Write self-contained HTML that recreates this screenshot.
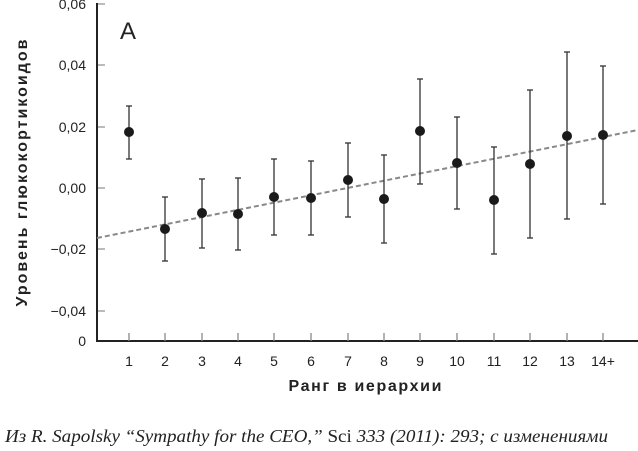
<!DOCTYPE html>
<html><head><meta charset="utf-8"><style>
body{margin:0;background:#fff;width:638px;height:451px;overflow:hidden}
svg{display:block}
text{font-family:"Liberation Sans","DejaVu Sans",sans-serif;fill:#222}
</style></head><body>
<svg width="638" height="451" viewBox="0 0 638 451">
<g font-size="14" text-anchor="end">
<text x="86" y="9">0,06</text>
<text x="86" y="70">0,04</text>
<text x="86" y="132">0,02</text>
<text x="86" y="193">0,00</text>
<text x="86" y="254">−0,02</text>
<text x="86" y="316">−0,04</text>
<text x="86" y="346">0</text>
</g>
<g stroke="#777" stroke-width="1">
<line x1="97" y1="4" x2="105" y2="4"/><line x1="97" y1="65" x2="105" y2="65"/>
<line x1="97" y1="127" x2="105" y2="127"/><line x1="97" y1="188" x2="105" y2="188"/>
<line x1="97" y1="249" x2="105" y2="249"/><line x1="97" y1="311" x2="105" y2="311"/>
</g>
<line x1="97" y1="3" x2="97" y2="342" stroke="#222" stroke-width="2"/>
<line x1="96" y1="341" x2="638" y2="341" stroke="#222" stroke-width="2"/>
<text x="120" y="39" font-size="24" style="fill:#222">A</text>
<line x1="97" y1="238" x2="638" y2="130" stroke="#888" stroke-width="2" stroke-dasharray="5,3"/>
<g id="pts" stroke="#333" stroke-width="1.3" fill="#1a1a1a"></g>
<g font-size="14" text-anchor="middle" id="xl"></g>
<text x="365" y="391" font-size="16" font-weight="bold" text-anchor="middle" textLength="153" lengthAdjust="spacing">Ранг в иерархии</text>
<text transform="translate(27,173) rotate(-90)" font-size="16" font-weight="bold" text-anchor="middle" textLength="267" lengthAdjust="spacing">Уровень глюкокортикоидов</text>
<text x="5" y="442" font-size="18" font-style="italic" textLength="603" lengthAdjust="spacingAndGlyphs" style="font-family:'Liberation Serif',serif">Из R. Sapolsky “Sympathy for the CEO,” <tspan font-style="normal">Sci</tspan> 333 (2011): 293; с изменениями</text>
</svg>
<script>
var d=[[129,132,106,159,"1"],[165,229,197,261,"2"],[202,213,179,248,"3"],[238,214,178,250,"4"],[274,197,159,235,"5"],[311,198,161,235,"6"],[348,180,143,217,"7"],[384,199,155,243,"8"],[420,131,79,184,"9"],[457,163,117,209,"10"],[494,200,147,254,"11"],[530,164,90,238,"12"],[567,136,52,219,"13"],[603,135,66,204,"14+"]];
var g=document.getElementById('pts'),xl=document.getElementById('xl'),h="",t="";
d.forEach(function(p){
h+='<line x1="'+p[0]+'" y1="'+p[2]+'" x2="'+p[0]+'" y2="'+p[3]+'"/>';
h+='<line x1="'+(p[0]-3)+'" y1="'+p[2]+'" x2="'+(p[0]+3)+'" y2="'+p[2]+'"/>';
h+='<line x1="'+(p[0]-3)+'" y1="'+p[3]+'" x2="'+(p[0]+3)+'" y2="'+p[3]+'"/>';
h+='<circle cx="'+p[0]+'" cy="'+p[1]+'" r="5" stroke="none"/>';
h+='<line x1="'+p[0]+'" y1="333" x2="'+p[0]+'" y2="341" stroke="#888"/>';
t+='<text x="'+p[0]+'" y="366">'+p[4]+'</text>';
});
g.innerHTML=h;xl.innerHTML=t;
</script>
</body></html>
